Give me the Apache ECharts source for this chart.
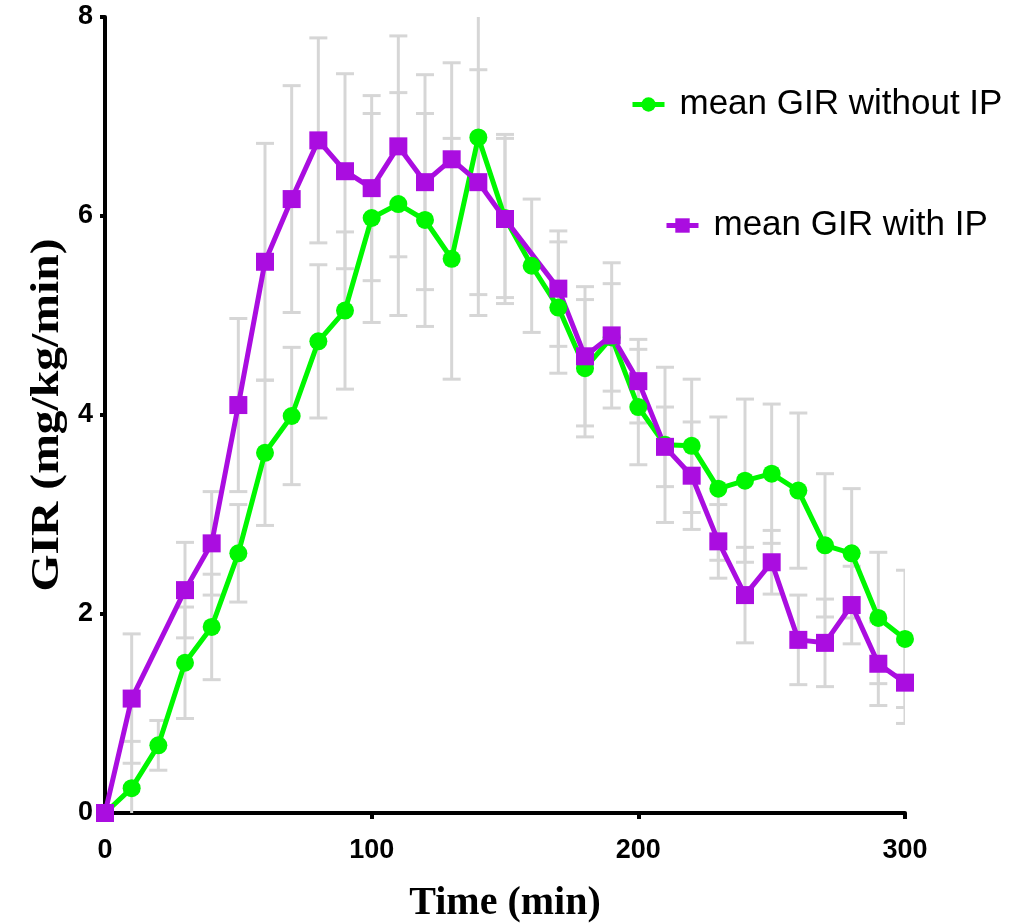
<!DOCTYPE html>
<html>
<head>
<meta charset="utf-8">
<script src="https://cdn.jsdelivr.net/npm/echarts@6/dist/echarts.min.js"></script>
<style>
  html, body { margin: 0; padding: 0; background: #fff; }
  #main { width: 1026px; height: 923px; }
</style>
</head>
<body>
<div id="main"></div>
<script>
// sampling times (min)
var times = [0, 10, 20, 30, 40, 50, 60, 70, 80, 90, 100, 110, 120, 130, 140, 150,
  160, 170, 180, 190, 200, 210, 220, 230, 240, 250, 260, 270, 280, 290, 300];

// mean GIR without IP, and its error
var meanNoIP = [0, 0.25, 0.68, 1.51, 1.87, 2.61, 3.62, 3.99, 4.74, 5.05, 5.98, 6.12, 5.96, 5.57, 6.79, 5.98,
  5.50, 5.08, 4.47, 4.78, 4.08, 3.70, 3.69, 3.26, 3.34, 3.41, 3.24, 2.69, 2.61, 1.96, 1.75];
var errNoIP = [0, 0.47, 0.25, 0.56, 0.53, 0.49, 0.73, 0.69, 0.77, 0.79, 1.05, 1.12, 1.07, 1.21, 1.79, 0.80,
  0.67, 0.66, 0.69, 0.54, 0.58, 0.78, 0.67, 0.72, 0.82, 0.70, 0.78, 0.72, 0.65, 0.66, 0.69];

// mean GIR with IP, and its error (no value at 20 and 160)
var meanIP = [0, 1.15, null, 2.24, 2.71, 4.10, 5.54, 6.17, 6.76, 6.45, 6.28, 6.70, 6.34, 6.57, 6.34, 5.97,
  null, 5.27, 4.59, 4.80, 4.34, 3.68, 3.39, 2.73, 2.19, 2.52, 1.74, 1.71, 2.09, 1.50, 1.31];
var errIP = [0, 0.65, null, 0.48, 0.52, 0.87, 1.19, 1.14, 1.03, 0.98, 0.93, 1.11, 1.08, 0.97, 1.13, 0.85,
  null, 0.58, 0.70, 0.73, 0.42, 0.40, 0.54, 0.37, 0.48, 0.32, 0.45, 0.44, 0.39, 0.42, 0.41];

var xTicks = [0, 100, 200, 300];
var yTicks = [0, 2, 4, 6, 8];

var GREEN = '#00f700';
var PURPLE = '#aa0de0';
var GREY = '#d6d6d6';

function pairs(means) {
  return times.map(function (t, i) { return [t, means[i]]; });
}
function errRows(means, errs) {
  var rows = [];
  times.forEach(function (t, i) {
    if (means[i] != null && errs[i]) rows.push([t, means[i], errs[i]]);
  });
  return rows;
}

function renderErr(params, api) {
  var x = api.value(0), m = api.value(1), e = api.value(2);
  var hi = api.coord([x, m + e]);
  var lo = api.coord([x, m - e]);
  var w = 9;
  var st = { stroke: GREY, lineWidth: 3 };
  return {
    type: 'group',
    children: [
      { type: 'line', shape: { x1: hi[0], y1: hi[1], x2: lo[0], y2: lo[1] }, style: st },
      { type: 'line', shape: { x1: hi[0] - w, y1: hi[1], x2: hi[0] + w, y2: hi[1] }, style: st },
      { type: 'line', shape: { x1: lo[0] - w, y1: lo[1], x2: lo[0] + w, y2: lo[1] }, style: st }
    ]
  };
}

var legendText = { fontFamily: 'Liberation Sans, Arial', fontSize: 35, color: '#000', padding: [0, 0, 0, 10] };

var chart = echarts.init(document.getElementById('main'));
chart.setOption({
  animation: false,
  backgroundColor: '#fff',
  grid: { left: 105, right: 121, top: 17, bottom: 110, containLabel: false, outerBoundsMode: 'none' },
  legend: [{
    data: ['mean GIR without IP'],
    left: 630, top: 87, padding: 0,
    itemWidth: 32, itemHeight: 18,
    lineStyle: { width: 5 },
    textStyle: legendText
  }, {
    data: ['mean GIR with IP'],
    left: 664, top: 208, padding: 0,
    itemWidth: 32, itemHeight: 18,
    lineStyle: { width: 5 },
    textStyle: legendText
  }],
  graphic: [{
    type: 'text',
    x: 48, y: 415,
    rotation: Math.PI / 2,
    scaleX: 1.19,
    style: {
      text: 'GIR (mg/kg/min)',
      fontFamily: 'Liberation Serif, Times New Roman', fontWeight: 'bold', fontSize: 40,
      fill: '#000', align: 'center', verticalAlign: 'middle'
    }
  }],
  xAxis: {
    type: 'value', min: 0, max: 300, interval: 100,
    name: 'Time (min)', nameLocation: 'middle', nameGap: 71,
    nameTextStyle: { fontFamily: 'Liberation Serif, Times New Roman', fontWeight: 'bold', fontSize: 40, color: '#000' },
    axisLine: { lineStyle: { color: '#000', width: 4 } },
    axisTick: { length: 6, lineStyle: { color: '#000', width: 4 } },
    axisLabel: {
      margin: 24, color: '#000', fontFamily: 'Liberation Sans, Arial', fontWeight: 'bold', fontSize: 27,
      customValues: xTicks
    },
    splitLine: { show: false }
  },
  yAxis: {
    type: 'value', min: 0, max: 8, interval: 2,
    axisLine: { show: true, lineStyle: { color: '#000', width: 4 } },
    axisTick: { show: true, length: 5, lineStyle: { color: '#000', width: 4 } },
    axisLabel: {
      margin: 12, color: '#000', fontFamily: 'Liberation Sans, Arial', fontWeight: 'bold', fontSize: 27,
      customValues: yTicks
    },
    splitLine: { show: false }
  },
  series: [{
    name: 'errNoIP', type: 'custom', clip: true,
    renderItem: renderErr, data: errRows(meanNoIP, errNoIP)
  }, {
    name: 'mean GIR without IP', type: 'line', clip: false,
    data: pairs(meanNoIP),
    symbol: 'circle', symbolSize: 18,
    itemStyle: { color: GREEN },
    lineStyle: { color: GREEN, width: 5 }
  }, {
    name: 'errIP', type: 'custom', clip: true,
    renderItem: renderErr, data: errRows(meanIP, errIP)
  }, {
    name: 'mean GIR with IP', type: 'line', clip: false, connectNulls: true,
    data: pairs(meanIP),
    symbol: 'rect', symbolSize: 18,
    itemStyle: { color: PURPLE },
    lineStyle: { color: PURPLE, width: 5 }
  }]
});
</script>
</body>
</html>
